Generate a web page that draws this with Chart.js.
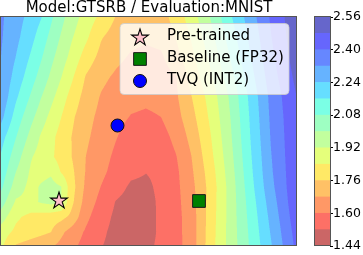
<!DOCTYPE html>
<html><head><meta charset="utf-8">
<script src="https://cdn.jsdelivr.net/npm/chart.js@4.4.1/dist/chart.umd.min.js"></script>
<style>
html,body{margin:0;padding:0;background:#fff;}
#wrap{position:relative;width:363px;height:255px;overflow:hidden;background:#fff;}
#main{position:absolute;left:0;top:0;}
#cbar{position:absolute;left:300px;top:0;}
</style></head><body>
<div id="wrap"><canvas id="main" width="300" height="255"></canvas><canvas id="cbar" width="63" height="255"></canvas></div>
<script>
// ---------------- data ----------------
const chartTitle = 'Model:GTSRB / Evaluation:MNIST';
// grid coordinates of the loss surface (x: left→right, y: top→bottom)
const gridX = [0, 15, 30, 40, 50, 60, 70, 85, 100, 115, 130, 145, 160, 175, 190, 210, 230, 250, 270, 296];
const gridY = [0, 20, 40, 60, 80, 100, 120, 140, 155, 170, 185, 200, 215, 229];
// loss values, one row per gridY entry
const lossRow0  = [2.332, 2.274, 2.212, 2.165, 2.094, 2.026, 1.963, 1.886, 1.822, 1.756, 1.716, 1.704, 1.728, 1.792, 1.877, 2.007, 2.153, 2.286, 2.411, 2.544];
const lossRow1  = [2.328, 2.261, 2.184, 2.124, 2.058, 1.993, 1.931, 1.856, 1.767, 1.724, 1.700, 1.692, 1.704, 1.763, 1.845, 1.975, 2.122, 2.264, 2.397, 2.536];
const lossRow2  = [2.320, 2.238, 2.150, 2.089, 2.022, 1.959, 1.900, 1.805, 1.736, 1.698, 1.672, 1.660, 1.668, 1.734, 1.816, 1.942, 2.089, 2.241, 2.381, 2.524];
const lossRow3  = [2.312, 2.209, 2.114, 2.050, 1.985, 1.923, 1.858, 1.753, 1.698, 1.668, 1.648, 1.636, 1.644, 1.676, 1.786, 1.908, 2.054, 2.214, 2.362, 2.504];
const lossRow4  = [2.300, 2.172, 2.070, 2.003, 1.942, 1.880, 1.814, 1.728, 1.674, 1.644, 1.624, 1.616, 1.624, 1.668, 1.755, 1.875, 2.018, 2.186, 2.342, 2.482];
const lossRow5  = [2.264, 2.126, 2.022, 1.958, 1.898, 1.842, 1.778, 1.706, 1.659, 1.625, 1.596, 1.588, 1.600, 1.651, 1.730, 1.858, 2.005, 2.175, 2.334, 2.472];
const lossRow6  = [2.191, 2.082, 1.974, 1.911, 1.862, 1.811, 1.762, 1.693, 1.646, 1.604, 1.564, 1.548, 1.568, 1.622, 1.702, 1.839, 1.994, 2.166, 2.326, 2.470];
const lossRow7  = [2.152, 2.037, 1.926, 1.888, 1.853, 1.810, 1.764, 1.679, 1.630, 1.584, 1.544, 1.530, 1.548, 1.596, 1.676, 1.821, 1.980, 2.155, 2.316, 2.470];
const lossRow8  = [2.128, 1.999, 1.908, 1.896, 1.908, 1.836, 1.783, 1.674, 1.618, 1.572, 1.536, 1.522, 1.536, 1.584, 1.664, 1.804, 1.969, 2.146, 2.309, 2.468];
const lossRow9  = [2.096, 1.960, 1.896, 1.928, 1.948, 1.924, 1.800, 1.662, 1.598, 1.550, 1.508, 1.504, 1.538, 1.581, 1.652, 1.794, 1.959, 2.135, 2.298, 2.468];
const lossRow10 = [2.040, 1.908, 1.900, 1.928, 1.944, 1.924, 1.786, 1.643, 1.576, 1.516, 1.492, 1.492, 1.535, 1.578, 1.644, 1.797, 1.958, 2.121, 2.279, 2.464];
const lossRow11 = [1.960, 1.854, 1.816, 1.804, 1.796, 1.784, 1.742, 1.618, 1.553, 1.504, 1.480, 1.484, 1.538, 1.576, 1.637, 1.800, 1.958, 2.110, 2.262, 2.452];
const lossRow12 = [1.880, 1.821, 1.796, 1.780, 1.761, 1.698, 1.650, 1.589, 1.536, 1.496, 1.476, 1.480, 1.539, 1.575, 1.636, 1.805, 1.957, 2.101, 2.247, 2.436];
const lossRow13 = [1.856, 1.752, 1.725, 1.706, 1.688, 1.658, 1.622, 1.571, 1.523, 1.496, 1.476, 1.496, 1.541, 1.575, 1.635, 1.808, 1.956, 2.094, 2.233, 2.424];
const lossGrid = [lossRow0, lossRow1, lossRow2, lossRow3, lossRow4, lossRow5, lossRow6,
                  lossRow7, lossRow8, lossRow9, lossRow10, lossRow11, lossRow12, lossRow13];
const contourLevels = [1.44, 1.52, 1.60, 1.68, 1.76, 1.84, 1.92, 2.00, 2.08, 2.16, 2.24, 2.32, 2.40, 2.48, 2.56];
const colorbarTicks = [1.44, 1.60, 1.76, 1.92, 2.08, 2.24, 2.40, 2.56];
const seriesLabels = ['Pre-trained', 'Baseline (FP32)', 'TVQ (INT2)'];
const pretrainedPt = [{x: 58, y: 183}];
const baselinePt = [{x: 198, y: 184}];
const tvqPt = [{x: 116.5, y: 108.5}];

// ---------------- styling helpers ----------------
const FONT = 'DejaVu Sans';
Chart.defaults.font.family = FONT;
function jet(s) {
  let r, g, b;
  r = s < 0.35 ? 0 : s < 0.66 ? (s - 0.35) / 0.31 : s < 0.89 ? 1 : 1 - 0.5 * (s - 0.89) / 0.11;
  g = s < 0.125 ? 0 : s < 0.375 ? (s - 0.125) / 0.25 : s < 0.64 ? 1 : s < 0.91 ? 1 - (s - 0.64) / 0.27 : 0;
  b = s < 0.11 ? 0.5 + 0.5 * s / 0.11 : s < 0.34 ? 1 : s < 0.65 ? 1 - (s - 0.34) / 0.31 : 0;
  return [r, g, b];
}
const nBands = contourLevels.length - 1;
const bandRGB = [];
for (let k = 0; k < nBands; k++) {
  const c = jet(1 - (k + 0.5) / nBands); // reversed jet, alpha 0.6 over white
  bandRGB.push(c.map(v => Math.round((0.6 * v + 0.4) * 255)));
}
const bandCSS = bandRGB.map(c => `rgb(${c[0]},${c[1]},${c[2]})`);

function makeStar(R) {
  const size = Math.ceil(2 * R + 4);
  const c = document.createElement('canvas'); c.width = size; c.height = size;
  const g = c.getContext('2d'); const cx = size / 2, cy = size / 2 + 0.8; const r = R * 0.382;
  g.beginPath();
  for (let i = 0; i < 10; i++) {
    const a = -Math.PI / 2 + i * Math.PI / 5; const rr = i % 2 === 0 ? R : r;
    g.lineTo(cx + rr * Math.cos(a), cy + rr * Math.sin(a));
  }
  g.closePath(); g.fillStyle = '#ffc0cb'; g.fill();
  g.lineWidth = 1.1; g.strokeStyle = '#000'; g.lineJoin = 'miter'; g.stroke();
  return c;
}
const starImg = makeStar(8.8);

function sampleLoss(xv, yv) {
  let i = 0; while (i < gridX.length - 2 && xv > gridX[i + 1]) i++;
  let j = 0; while (j < gridY.length - 2 && yv > gridY[j + 1]) j++;
  const tx = Math.min(1, Math.max(0, (xv - gridX[i]) / (gridX[i + 1] - gridX[i])));
  const ty = Math.min(1, Math.max(0, (yv - gridY[j]) / (gridY[j + 1] - gridY[j])));
  const a = lossGrid[j][i], b = lossGrid[j][i + 1], c = lossGrid[j + 1][i], d = lossGrid[j + 1][i + 1];
  return (a * (1 - tx) + b * tx) * (1 - ty) + (c * (1 - tx) + d * tx) * ty;
}
function bandOf(v) {
  let k = 0; while (k < nBands - 1 && v >= contourLevels[k + 1]) k++;
  return k;
}

const contourPlugin = {
  id: 'contourFill',
  beforeDatasetsDraw(chart) {
    const {ctx, chartArea: a, scales: {x, y}} = chart;
    const w = Math.round(a.right - a.left), h = Math.round(a.bottom - a.top);
    const off = document.createElement('canvas'); off.width = w; off.height = h;
    const octx = off.getContext('2d'); const img = octx.createImageData(w, h);
    const S = 3;
    for (let j = 0; j < h; j++) {
      for (let i = 0; i < w; i++) {
        let r = 0, g = 0, b = 0;
        for (let sy = 0; sy < S; sy++) for (let sx = 0; sx < S; sx++) {
          const xv = x.getValueForPixel(a.left + i + (sx + 0.5) / S);
          const yv = y.getValueForPixel(a.top + j + (sy + 0.5) / S);
          const c = bandRGB[bandOf(sampleLoss(xv, yv))];
          r += c[0]; g += c[1]; b += c[2];
        }
        const p = (j * w + i) * 4;
        img.data[p] = r / (S * S); img.data[p + 1] = g / (S * S); img.data[p + 2] = b / (S * S); img.data[p + 3] = 255;
      }
    }
    octx.putImageData(img, 0, 0);
    ctx.drawImage(off, a.left, a.top);
    ctx.save();
    ctx.strokeStyle = '#555'; ctx.lineWidth = 1;
    ctx.strokeRect(a.left - 0.5, a.top - 0.5, a.right - a.left, a.bottom - a.top);
    ctx.restore();
  },
  afterDraw(chart) {
    const {ctx, chartArea: a} = chart;
    const bx = a.right - 177, by = a.top + 6.5, bw = 169, bh = 71, rad = 4;
    ctx.save();
    ctx.beginPath();
    ctx.moveTo(bx + rad, by); ctx.lineTo(bx + bw - rad, by); ctx.arcTo(bx + bw, by, bx + bw, by + rad, rad);
    ctx.lineTo(bx + bw, by + bh - rad); ctx.arcTo(bx + bw, by + bh, bx + bw - rad, by + bh, rad);
    ctx.lineTo(bx + rad, by + bh); ctx.arcTo(bx, by + bh, bx, by + bh - rad, rad);
    ctx.lineTo(bx, by + rad); ctx.arcTo(bx, by, bx + rad, by, rad); ctx.closePath();
    ctx.fillStyle = 'rgba(255,255,255,0.8)'; ctx.fill();
    ctx.strokeStyle = 'rgba(204,204,204,0.8)'; ctx.lineWidth = 1; ctx.stroke();
    chart.data.datasets.forEach((ds, k) => {
      const my = by + 13.5 + k * 22;
      ctx.fillStyle = ds.pointBackgroundColor; ctx.strokeStyle = ds.pointBorderColor; ctx.lineWidth = ds.pointBorderWidth;
      Chart.helpers.drawPoint(ctx, {pointStyle: ds.pointStyle, rotation: 0, radius: ds.pointRadius, borderWidth: ds.pointBorderWidth}, bx + 20, my);
      ctx.fillStyle = '#000'; ctx.font = `15px "${FONT}"`; ctx.textBaseline = 'middle'; ctx.textAlign = 'left';
      ctx.fillText(ds.label, bx + 47, my - 1);
    });
    ctx.restore();
  }
};

new Chart(document.getElementById('main'), {
  type: 'scatter',
  data: {
    datasets: [
      {label: seriesLabels[0], data: pretrainedPt, pointStyle: starImg, pointRadius: 9, pointBackgroundColor: '#ffc0cb', pointBorderColor: '#000', pointBorderWidth: 1},
      {label: seriesLabels[1], data: baselinePt, pointStyle: 'rect', pointRadius: 9, pointBackgroundColor: '#008000', pointBorderColor: '#1a1a1a', pointBorderWidth: 1},
      {label: seriesLabels[2], data: tvqPt, pointStyle: 'circle', pointRadius: 6.5, pointBackgroundColor: '#0000ff', pointBorderColor: '#111', pointBorderWidth: 1}
    ]
  },
  options: {
    responsive: false, animation: false, events: [],
    layout: {autoPadding: false, padding: {left: 1, right: 3, top: 0, bottom: 9}},
    scales: {
      x: {type: 'linear', min: gridX[0], max: gridX[gridX.length - 1], display: false},
      y: {type: 'linear', min: gridY[0], max: gridY[gridY.length - 1], reverse: true, display: false}
    },
    plugins: {
      legend: {display: false}, tooltip: {enabled: false},
      title: {display: true, text: chartTitle, fullSize: false, color: '#000', padding: 0,
              font: {family: FONT, size: 15, weight: 'normal', lineHeight: 17 / 15}}
    }
  },
  plugins: [contourPlugin]
});

// ---------------- colorbar ----------------
const cbOutline = {
  id: 'cbOutline',
  afterDraw(chart) {
    const {ctx, chartArea: a} = chart;
    ctx.save(); ctx.strokeStyle = '#555'; ctx.lineWidth = 1;
    ctx.strokeRect(Math.round(a.left) - 0.5, Math.round(a.top) - 0.5, Math.round(a.right - a.left) + 1, Math.round(a.bottom - a.top));
    ctx.restore();
  }
};
new Chart(document.getElementById('cbar'), {
  type: 'bar',
  data: {
    labels: ['loss'],
    datasets: bandCSS.map((c, k) => ({
      data: [[contourLevels[k], contourLevels[k + 1]]], backgroundColor: c, borderWidth: 0,
      grouped: false, barPercentage: 1, categoryPercentage: 1
    }))
  },
  options: {
    responsive: false, animation: false, events: [],
    layout: {autoPadding: false, padding: {left: 15, right: 0, top: 17, bottom: 9}},
    scales: {
      x: {display: false},
      y: {position: 'right', min: contourLevels[0], max: contourLevels[contourLevels.length - 1],
          afterBuildTicks: ax => { ax.ticks = colorbarTicks.map(v => ({value: v})); },
          afterFit: ax => { ax.width = 33; },
          grid: {display: true, drawOnChartArea: false, drawTicks: true, tickLength: 3, color: '#000', lineWidth: 1},
          border: {display: false},
          ticks: {color: '#000', padding: 0, font: {family: FONT, size: 12.5}, callback: v => Number(v).toFixed(2)}}
    },
    plugins: {legend: {display: false}, tooltip: {enabled: false}, title: {display: false}}
  },
  plugins: [cbOutline]
});
</script>
</body></html>
